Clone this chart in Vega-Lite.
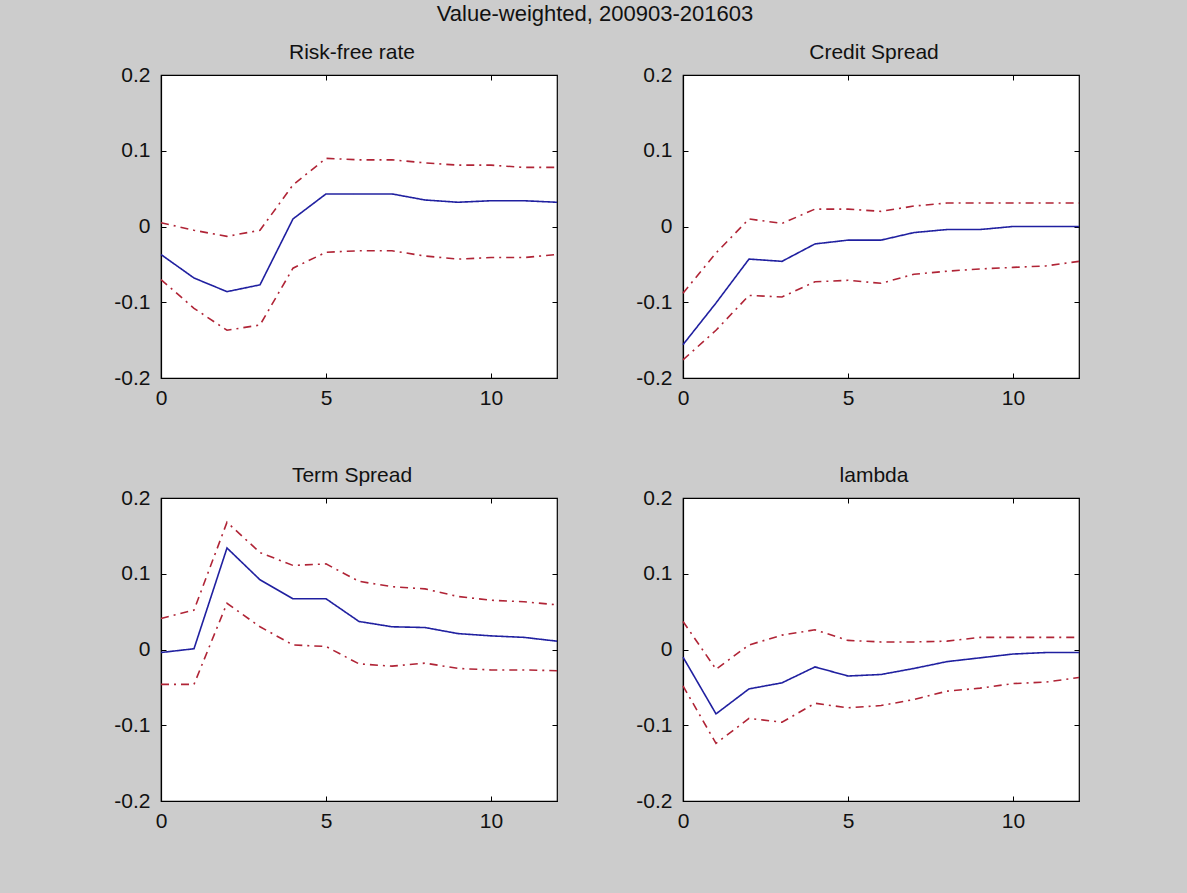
{
  "$schema": "https://vega.github.io/schema/vega-lite/v6.json",
  "background": "#cccccc",
  "padding": {"left": 113, "top": 3, "right": 104, "bottom": 61},
  "title": {"text": "Value-weighted, 200903-201603", "fontSize": 22, "font": "Liberation Sans", "fontWeight": "normal", "color": "#111111", "anchor": "middle", "dx": -3, "offset": -2, "baseline": "alphabetic"},
  "datasets": {
    "irf": [
      {"p":"Risk-free rate","s":"mid","t":0,"v":-0.037},{"p":"Risk-free rate","s":"mid","t":1,"v":-0.068},{"p":"Risk-free rate","s":"mid","t":2,"v":-0.086},{"p":"Risk-free rate","s":"mid","t":3,"v":-0.077},{"p":"Risk-free rate","s":"mid","t":4,"v":0.010},{"p":"Risk-free rate","s":"mid","t":5,"v":0.043},{"p":"Risk-free rate","s":"mid","t":6,"v":0.043},{"p":"Risk-free rate","s":"mid","t":7,"v":0.043},{"p":"Risk-free rate","s":"mid","t":8,"v":0.035},{"p":"Risk-free rate","s":"mid","t":9,"v":0.032},{"p":"Risk-free rate","s":"mid","t":10,"v":0.034},{"p":"Risk-free rate","s":"mid","t":11,"v":0.034},{"p":"Risk-free rate","s":"mid","t":12,"v":0.032},
      {"p":"Risk-free rate","s":"up","t":0,"v":0.005},{"p":"Risk-free rate","s":"up","t":1,"v":-0.005},{"p":"Risk-free rate","s":"up","t":2,"v":-0.013},{"p":"Risk-free rate","s":"up","t":3,"v":-0.005},{"p":"Risk-free rate","s":"up","t":4,"v":0.055},{"p":"Risk-free rate","s":"up","t":5,"v":0.090},{"p":"Risk-free rate","s":"up","t":6,"v":0.088},{"p":"Risk-free rate","s":"up","t":7,"v":0.088},{"p":"Risk-free rate","s":"up","t":8,"v":0.084},{"p":"Risk-free rate","s":"up","t":9,"v":0.081},{"p":"Risk-free rate","s":"up","t":10,"v":0.081},{"p":"Risk-free rate","s":"up","t":11,"v":0.078},{"p":"Risk-free rate","s":"up","t":12,"v":0.078},
      {"p":"Risk-free rate","s":"lo","t":0,"v":-0.070},{"p":"Risk-free rate","s":"lo","t":1,"v":-0.108},{"p":"Risk-free rate","s":"lo","t":2,"v":-0.137},{"p":"Risk-free rate","s":"lo","t":3,"v":-0.130},{"p":"Risk-free rate","s":"lo","t":4,"v":-0.055},{"p":"Risk-free rate","s":"lo","t":5,"v":-0.034},{"p":"Risk-free rate","s":"lo","t":6,"v":-0.032},{"p":"Risk-free rate","s":"lo","t":7,"v":-0.032},{"p":"Risk-free rate","s":"lo","t":8,"v":-0.039},{"p":"Risk-free rate","s":"lo","t":9,"v":-0.043},{"p":"Risk-free rate","s":"lo","t":10,"v":-0.041},{"p":"Risk-free rate","s":"lo","t":11,"v":-0.041},{"p":"Risk-free rate","s":"lo","t":12,"v":-0.037},
      {"p":"Credit Spread","s":"mid","t":0,"v":-0.156},{"p":"Credit Spread","s":"mid","t":1,"v":-0.101},{"p":"Credit Spread","s":"mid","t":2,"v":-0.043},{"p":"Credit Spread","s":"mid","t":3,"v":-0.046},{"p":"Credit Spread","s":"mid","t":4,"v":-0.023},{"p":"Credit Spread","s":"mid","t":5,"v":-0.018},{"p":"Credit Spread","s":"mid","t":6,"v":-0.018},{"p":"Credit Spread","s":"mid","t":7,"v":-0.008},{"p":"Credit Spread","s":"mid","t":8,"v":-0.004},{"p":"Credit Spread","s":"mid","t":9,"v":-0.004},{"p":"Credit Spread","s":"mid","t":10,"v":0.000},{"p":"Credit Spread","s":"mid","t":11,"v":0.000},{"p":"Credit Spread","s":"mid","t":12,"v":0.000},
      {"p":"Credit Spread","s":"up","t":0,"v":-0.088},{"p":"Credit Spread","s":"up","t":1,"v":-0.035},{"p":"Credit Spread","s":"up","t":2,"v":0.010},{"p":"Credit Spread","s":"up","t":3,"v":0.004},{"p":"Credit Spread","s":"up","t":4,"v":0.023},{"p":"Credit Spread","s":"up","t":5,"v":0.023},{"p":"Credit Spread","s":"up","t":6,"v":0.020},{"p":"Credit Spread","s":"up","t":7,"v":0.027},{"p":"Credit Spread","s":"up","t":8,"v":0.031},{"p":"Credit Spread","s":"up","t":9,"v":0.031},{"p":"Credit Spread","s":"up","t":10,"v":0.031},{"p":"Credit Spread","s":"up","t":11,"v":0.031},{"p":"Credit Spread","s":"up","t":12,"v":0.031},
      {"p":"Credit Spread","s":"lo","t":0,"v":-0.176},{"p":"Credit Spread","s":"lo","t":1,"v":-0.137},{"p":"Credit Spread","s":"lo","t":2,"v":-0.091},{"p":"Credit Spread","s":"lo","t":3,"v":-0.093},{"p":"Credit Spread","s":"lo","t":4,"v":-0.073},{"p":"Credit Spread","s":"lo","t":5,"v":-0.071},{"p":"Credit Spread","s":"lo","t":6,"v":-0.075},{"p":"Credit Spread","s":"lo","t":7,"v":-0.063},{"p":"Credit Spread","s":"lo","t":8,"v":-0.059},{"p":"Credit Spread","s":"lo","t":9,"v":-0.056},{"p":"Credit Spread","s":"lo","t":10,"v":-0.054},{"p":"Credit Spread","s":"lo","t":11,"v":-0.052},{"p":"Credit Spread","s":"lo","t":12,"v":-0.046},
      {"p":"Term Spread","s":"mid","t":0,"v":-0.004},{"p":"Term Spread","s":"mid","t":1,"v":0.001},{"p":"Term Spread","s":"mid","t":2,"v":0.134},{"p":"Term Spread","s":"mid","t":3,"v":0.092},{"p":"Term Spread","s":"mid","t":4,"v":0.067},{"p":"Term Spread","s":"mid","t":5,"v":0.067},{"p":"Term Spread","s":"mid","t":6,"v":0.037},{"p":"Term Spread","s":"mid","t":7,"v":0.030},{"p":"Term Spread","s":"mid","t":8,"v":0.029},{"p":"Term Spread","s":"mid","t":9,"v":0.021},{"p":"Term Spread","s":"mid","t":10,"v":0.018},{"p":"Term Spread","s":"mid","t":11,"v":0.016},{"p":"Term Spread","s":"mid","t":12,"v":0.011},
      {"p":"Term Spread","s":"up","t":0,"v":0.041},{"p":"Term Spread","s":"up","t":1,"v":0.052},{"p":"Term Spread","s":"up","t":2,"v":0.168},{"p":"Term Spread","s":"up","t":3,"v":0.128},{"p":"Term Spread","s":"up","t":4,"v":0.111},{"p":"Term Spread","s":"up","t":5,"v":0.113},{"p":"Term Spread","s":"up","t":6,"v":0.090},{"p":"Term Spread","s":"up","t":7,"v":0.083},{"p":"Term Spread","s":"up","t":8,"v":0.080},{"p":"Term Spread","s":"up","t":9,"v":0.070},{"p":"Term Spread","s":"up","t":10,"v":0.065},{"p":"Term Spread","s":"up","t":11,"v":0.063},{"p":"Term Spread","s":"up","t":12,"v":0.059},
      {"p":"Term Spread","s":"lo","t":0,"v":-0.046},{"p":"Term Spread","s":"lo","t":1,"v":-0.046},{"p":"Term Spread","s":"lo","t":2,"v":0.061},{"p":"Term Spread","s":"lo","t":3,"v":0.030},{"p":"Term Spread","s":"lo","t":4,"v":0.006},{"p":"Term Spread","s":"lo","t":5,"v":0.004},{"p":"Term Spread","s":"lo","t":6,"v":-0.019},{"p":"Term Spread","s":"lo","t":7,"v":-0.022},{"p":"Term Spread","s":"lo","t":8,"v":-0.018},{"p":"Term Spread","s":"lo","t":9,"v":-0.025},{"p":"Term Spread","s":"lo","t":10,"v":-0.027},{"p":"Term Spread","s":"lo","t":11,"v":-0.027},{"p":"Term Spread","s":"lo","t":12,"v":-0.028},
      {"p":"lambda","s":"mid","t":0,"v":-0.010},{"p":"lambda","s":"mid","t":1,"v":-0.085},{"p":"lambda","s":"mid","t":2,"v":-0.052},{"p":"lambda","s":"mid","t":3,"v":-0.044},{"p":"lambda","s":"mid","t":4,"v":-0.023},{"p":"lambda","s":"mid","t":5,"v":-0.035},{"p":"lambda","s":"mid","t":6,"v":-0.033},{"p":"lambda","s":"mid","t":7,"v":-0.025},{"p":"lambda","s":"mid","t":8,"v":-0.016},{"p":"lambda","s":"mid","t":9,"v":-0.011},{"p":"lambda","s":"mid","t":10,"v":-0.006},{"p":"lambda","s":"mid","t":11,"v":-0.004},{"p":"lambda","s":"mid","t":12,"v":-0.004},
      {"p":"lambda","s":"up","t":0,"v":0.037},{"p":"lambda","s":"up","t":1,"v":-0.026},{"p":"lambda","s":"up","t":2,"v":0.006},{"p":"lambda","s":"up","t":3,"v":0.019},{"p":"lambda","s":"up","t":4,"v":0.026},{"p":"lambda","s":"up","t":5,"v":0.012},{"p":"lambda","s":"up","t":6,"v":0.010},{"p":"lambda","s":"up","t":7,"v":0.010},{"p":"lambda","s":"up","t":8,"v":0.011},{"p":"lambda","s":"up","t":9,"v":0.016},{"p":"lambda","s":"up","t":10,"v":0.016},{"p":"lambda","s":"up","t":11,"v":0.016},{"p":"lambda","s":"up","t":12,"v":0.016},
      {"p":"lambda","s":"lo","t":0,"v":-0.048},{"p":"lambda","s":"lo","t":1,"v":-0.124},{"p":"lambda","s":"lo","t":2,"v":-0.091},{"p":"lambda","s":"lo","t":3,"v":-0.096},{"p":"lambda","s":"lo","t":4,"v":-0.071},{"p":"lambda","s":"lo","t":5,"v":-0.077},{"p":"lambda","s":"lo","t":6,"v":-0.074},{"p":"lambda","s":"lo","t":7,"v":-0.066},{"p":"lambda","s":"lo","t":8,"v":-0.055},{"p":"lambda","s":"lo","t":9,"v":-0.051},{"p":"lambda","s":"lo","t":10,"v":-0.045},{"p":"lambda","s":"lo","t":11,"v":-0.043},{"p":"lambda","s":"lo","t":12,"v":-0.037}
    ]
  },
  "columns": 2,
  "spacing": {"row": 120, "column": 126},
  "bounds": "flush",
  "concat": [
    {
      "width": 396, "height": 303,
      "title": "Risk-free rate",
      "data": {"name": "irf"},
      "transform": [{"filter": "datum.p == 'Risk-free rate'"}],
      "layer": [
        {"mark": {"type": "line", "strokeWidth": 1.6},
         "encoding": {
           "x": {"field": "t", "type": "quantitative", "scale": {"domain": [0, 12], "nice": false, "zero": false}, "axis": {"orient": "bottom", "values": [0, 5, 10], "title": null, "ticks": false, "labelPadding": 9}},
           "y": {"field": "v", "type": "quantitative", "scale": {"domain": [-0.2, 0.2], "nice": false}, "axis": {"orient": "left", "values": [-0.2, -0.1, 0, 0.1, 0.2], "title": null, "ticks": false, "labelPadding": 11, "labelExpr": "datum.value == 0 ? '0' : (datum.value < 0 ? '-' : '') + format(abs(datum.value), '.1f')"}},
           "color": {"field": "s", "type": "nominal", "scale": {"domain": ["mid", "up", "lo"], "range": ["#2020a0", "#b02436", "#b02436"]}, "legend": null},
           "strokeDash": {"field": "s", "type": "nominal", "scale": {"domain": ["mid", "up", "lo"], "range": [[1, 0], [8, 5, 2, 5], [8, 5, 2, 5]]}, "legend": null}
         }},
        {"mark": {"type": "point", "opacity": 0},
         "encoding": {
           "x": {"field": "t", "type": "quantitative", "axis": {"orient": "top", "values": [0, 5, 10], "labels": false, "title": null, "domain": false, "offset": -5}},
           "y": {"field": "v", "type": "quantitative", "axis": {"orient": "right", "values": [-0.2, -0.1, 0, 0.1, 0.2], "labels": false, "title": null, "domain": false, "offset": -5}}
         }},
        {"mark": {"type": "point", "opacity": 0},
         "encoding": {
           "x": {"field": "t", "type": "quantitative", "axis": {"orient": "bottom", "values": [0, 5, 10], "labels": false, "title": null, "domain": false, "offset": -5}},
           "y": {"field": "v", "type": "quantitative", "axis": {"orient": "left", "values": [-0.2, -0.1, 0, 0.1, 0.2], "labels": false, "title": null, "domain": false, "offset": -5}}
         }}
      ],
      "resolve": {"axis": {"x": "independent", "y": "independent"}}
    },
    {
      "width": 396, "height": 303,
      "title": "Credit Spread",
      "data": {"name": "irf"},
      "transform": [{"filter": "datum.p == 'Credit Spread'"}],
      "layer": [
        {"mark": {"type": "line", "strokeWidth": 1.6},
         "encoding": {
           "x": {"field": "t", "type": "quantitative", "scale": {"domain": [0, 12], "nice": false, "zero": false}, "axis": {"orient": "bottom", "values": [0, 5, 10], "title": null, "ticks": false, "labelPadding": 9}},
           "y": {"field": "v", "type": "quantitative", "scale": {"domain": [-0.2, 0.2], "nice": false}, "axis": {"orient": "left", "values": [-0.2, -0.1, 0, 0.1, 0.2], "title": null, "ticks": false, "labelPadding": 11, "labelExpr": "datum.value == 0 ? '0' : (datum.value < 0 ? '-' : '') + format(abs(datum.value), '.1f')"}},
           "color": {"field": "s", "type": "nominal", "scale": {"domain": ["mid", "up", "lo"], "range": ["#2020a0", "#b02436", "#b02436"]}, "legend": null},
           "strokeDash": {"field": "s", "type": "nominal", "scale": {"domain": ["mid", "up", "lo"], "range": [[1, 0], [8, 5, 2, 5], [8, 5, 2, 5]]}, "legend": null}
         }},
        {"mark": {"type": "point", "opacity": 0},
         "encoding": {
           "x": {"field": "t", "type": "quantitative", "axis": {"orient": "top", "values": [0, 5, 10], "labels": false, "title": null, "domain": false, "offset": -5}},
           "y": {"field": "v", "type": "quantitative", "axis": {"orient": "right", "values": [-0.2, -0.1, 0, 0.1, 0.2], "labels": false, "title": null, "domain": false, "offset": -5}}
         }},
        {"mark": {"type": "point", "opacity": 0},
         "encoding": {
           "x": {"field": "t", "type": "quantitative", "axis": {"orient": "bottom", "values": [0, 5, 10], "labels": false, "title": null, "domain": false, "offset": -5}},
           "y": {"field": "v", "type": "quantitative", "axis": {"orient": "left", "values": [-0.2, -0.1, 0, 0.1, 0.2], "labels": false, "title": null, "domain": false, "offset": -5}}
         }}
      ],
      "resolve": {"axis": {"x": "independent", "y": "independent"}}
    },
    {
      "width": 396, "height": 303,
      "title": "Term Spread",
      "data": {"name": "irf"},
      "transform": [{"filter": "datum.p == 'Term Spread'"}],
      "layer": [
        {"mark": {"type": "line", "strokeWidth": 1.6},
         "encoding": {
           "x": {"field": "t", "type": "quantitative", "scale": {"domain": [0, 12], "nice": false, "zero": false}, "axis": {"orient": "bottom", "values": [0, 5, 10], "title": null, "ticks": false, "labelPadding": 9}},
           "y": {"field": "v", "type": "quantitative", "scale": {"domain": [-0.2, 0.2], "nice": false}, "axis": {"orient": "left", "values": [-0.2, -0.1, 0, 0.1, 0.2], "title": null, "ticks": false, "labelPadding": 11, "labelExpr": "datum.value == 0 ? '0' : (datum.value < 0 ? '-' : '') + format(abs(datum.value), '.1f')"}},
           "color": {"field": "s", "type": "nominal", "scale": {"domain": ["mid", "up", "lo"], "range": ["#2020a0", "#b02436", "#b02436"]}, "legend": null},
           "strokeDash": {"field": "s", "type": "nominal", "scale": {"domain": ["mid", "up", "lo"], "range": [[1, 0], [8, 5, 2, 5], [8, 5, 2, 5]]}, "legend": null}
         }},
        {"mark": {"type": "point", "opacity": 0},
         "encoding": {
           "x": {"field": "t", "type": "quantitative", "axis": {"orient": "top", "values": [0, 5, 10], "labels": false, "title": null, "domain": false, "offset": -5}},
           "y": {"field": "v", "type": "quantitative", "axis": {"orient": "right", "values": [-0.2, -0.1, 0, 0.1, 0.2], "labels": false, "title": null, "domain": false, "offset": -5}}
         }},
        {"mark": {"type": "point", "opacity": 0},
         "encoding": {
           "x": {"field": "t", "type": "quantitative", "axis": {"orient": "bottom", "values": [0, 5, 10], "labels": false, "title": null, "domain": false, "offset": -5}},
           "y": {"field": "v", "type": "quantitative", "axis": {"orient": "left", "values": [-0.2, -0.1, 0, 0.1, 0.2], "labels": false, "title": null, "domain": false, "offset": -5}}
         }}
      ],
      "resolve": {"axis": {"x": "independent", "y": "independent"}}
    },
    {
      "width": 396, "height": 303,
      "title": "lambda",
      "data": {"name": "irf"},
      "transform": [{"filter": "datum.p == 'lambda'"}],
      "layer": [
        {"mark": {"type": "line", "strokeWidth": 1.6},
         "encoding": {
           "x": {"field": "t", "type": "quantitative", "scale": {"domain": [0, 12], "nice": false, "zero": false}, "axis": {"orient": "bottom", "values": [0, 5, 10], "title": null, "ticks": false, "labelPadding": 9}},
           "y": {"field": "v", "type": "quantitative", "scale": {"domain": [-0.2, 0.2], "nice": false}, "axis": {"orient": "left", "values": [-0.2, -0.1, 0, 0.1, 0.2], "title": null, "ticks": false, "labelPadding": 11, "labelExpr": "datum.value == 0 ? '0' : (datum.value < 0 ? '-' : '') + format(abs(datum.value), '.1f')"}},
           "color": {"field": "s", "type": "nominal", "scale": {"domain": ["mid", "up", "lo"], "range": ["#2020a0", "#b02436", "#b02436"]}, "legend": null},
           "strokeDash": {"field": "s", "type": "nominal", "scale": {"domain": ["mid", "up", "lo"], "range": [[1, 0], [8, 5, 2, 5], [8, 5, 2, 5]]}, "legend": null}
         }},
        {"mark": {"type": "point", "opacity": 0},
         "encoding": {
           "x": {"field": "t", "type": "quantitative", "axis": {"orient": "top", "values": [0, 5, 10], "labels": false, "title": null, "domain": false, "offset": -5}},
           "y": {"field": "v", "type": "quantitative", "axis": {"orient": "right", "values": [-0.2, -0.1, 0, 0.1, 0.2], "labels": false, "title": null, "domain": false, "offset": -5}}
         }},
        {"mark": {"type": "point", "opacity": 0},
         "encoding": {
           "x": {"field": "t", "type": "quantitative", "axis": {"orient": "bottom", "values": [0, 5, 10], "labels": false, "title": null, "domain": false, "offset": -5}},
           "y": {"field": "v", "type": "quantitative", "axis": {"orient": "left", "values": [-0.2, -0.1, 0, 0.1, 0.2], "labels": false, "title": null, "domain": false, "offset": -5}}
         }}
      ],
      "resolve": {"axis": {"x": "independent", "y": "independent"}}
    }
  ],
  "config": {
    "view": {"fill": "white", "stroke": "black", "strokeWidth": 1.2},
    "axis": {"grid": false, "domainColor": "black", "domainWidth": 1.2, "tickColor": "black", "tickSize": 5, "tickWidth": 1, "labelFont": "Liberation Sans", "labelFontSize": 21, "labelColor": "#111111", "labelFlush": false, "labelOverlap": false},
    "title": {"font": "Liberation Sans", "fontSize": 21, "fontWeight": "normal", "color": "#111111", "baseline": "alphabetic", "offset": 1, "dx": -7}
  }
}
